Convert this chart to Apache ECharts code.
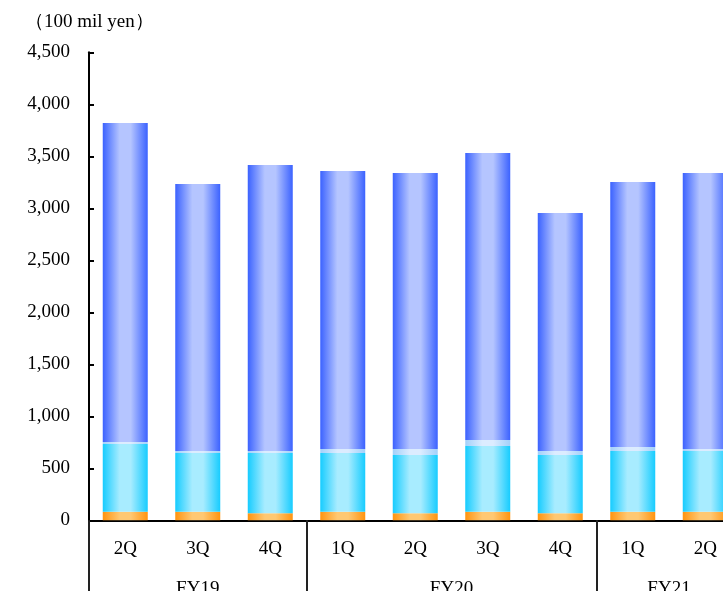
<!DOCTYPE html>
<html>
<head>
<meta charset="utf-8">
<script src="https://cdn.jsdelivr.net/npm/echarts@6/dist/echarts.min.js"></script>
<style>
  html, body { margin: 0; padding: 0; background: #fff; }
  #chart { width: 723px; height: 591px; }
</style>
</head>
<body>
<div id="chart"></div>
<script>
// Quarterly breakdown (100 mil yen), stacked from bottom to top
const quarters = ['2Q', '3Q', '4Q', '1Q', '2Q', '3Q', '4Q', '1Q', '2Q'];
const fiscalYears = [
  { name: 'FY19', center: 1.5 },
  { name: 'FY20', center: 5 },
  { name: 'FY21', center: 8 }
];
const groupStarts = [0, 3, 7];

const segA = [83, 83, 67, 83, 67, 83, 67, 83, 83];          // orange base
const segB = [651, 564, 580, 564, 561, 631, 561, 583, 583]; // cyan
const segC = [19, 19, 19, 39, 58, 58, 38, 39, 20];          // pale band
const segD = [3067, 2568, 2750, 2673, 2654, 2760, 2289, 2548, 2654]; // blue top

const yTicks = { min: 0, max: 4500, step: 500 };

const FONT = '"Liberation Serif", "Times New Roman", serif';
const FONT_SIZE = 19;

function barGradient(edge, mid) {
  return new echarts.graphic.LinearGradient(0, 0, 1, 0, [
    { offset: 0, color: edge },
    { offset: 0.38, color: mid },
    { offset: 0.62, color: mid },
    { offset: 1, color: edge }
  ]);
}

function stackSeries(name, data, edge, mid) {
  return {
    name: name,
    type: 'bar',
    stack: 'total',
    barWidth: 45,
    xAxisIndex: 0,
    yAxisIndex: 0,
    itemStyle: { color: barGradient(edge, mid) },
    emphasis: { disabled: true },
    data: data
  };
}

const chart = echarts.init(document.getElementById('chart'), null, { renderer: 'canvas' });

chart.setOption({
  animation: false,
  backgroundColor: '#ffffff',
  title: {
    text: '（100 mil yen）',
    left: 20,
    top: 8,
    textStyle: { fontFamily: FONT, fontSize: FONT_SIZE, fontWeight: 'normal', color: '#000' }
  },
  grid: {
    left: 89, right: -18.5, top: 52.3, bottom: 70.7,
    containLabel: false,
    outerBoundsMode: 'none'
  },
  xAxis: [
    {
      type: 'category',
      data: quarters,
      position: 'bottom',
      axisLine: { show: true, lineStyle: { color: '#000', width: 2 } },
      axisTick: {
        show: true,
        alignWithLabel: false,
        interval: function (idx) { return groupStarts.indexOf(idx) !== -1; },
        length: 72,
        lineStyle: { color: '#222', width: 2 }
      },
      axisLabel: {
        interval: 0,
        margin: 19,
        fontFamily: FONT,
        fontSize: FONT_SIZE,
        color: '#000'
      },
      splitLine: { show: false }
    },
    {
      type: 'value',
      min: 0,
      max: quarters.length,
      interval: 0.5,
      position: 'bottom',
      axisLine: { show: false },
      axisTick: { show: false },
      splitLine: { show: false },
      axisLabel: {
        margin: 59,
        fontFamily: FONT,
        fontSize: FONT_SIZE,
        color: '#000',
        formatter: function (v) {
          const fy = fiscalYears.find(function (f) { return Math.abs(f.center - v) < 1e-6; });
          return fy ? fy.name : '';
        }
      }
    }
  ],
  yAxis: {
    type: 'value',
    min: yTicks.min,
    max: yTicks.max,
    interval: yTicks.step,
    axisLine: { show: true, lineStyle: { color: '#000', width: 2 } },
    axisTick: { show: true, inside: true, length: 5, lineStyle: { color: '#000', width: 2 } },
    splitLine: { show: false },
    axisLabel: {
      margin: 19,
      fontFamily: FONT,
      fontSize: FONT_SIZE,
      color: '#000',
      formatter: function (v) { return v.toLocaleString('en-US'); }
    }
  },
  series: [
    stackSeries('A', segA, '#ff9410', '#ffc872'),
    stackSeries('B', segB, '#16ccff', '#a8ecff'),
    stackSeries('C', segC, '#a2d0fa', '#dcecff'),
    stackSeries('D', segD, '#3b62ff', '#b5c5ff')
  ]
});
</script>
</body>
</html>
